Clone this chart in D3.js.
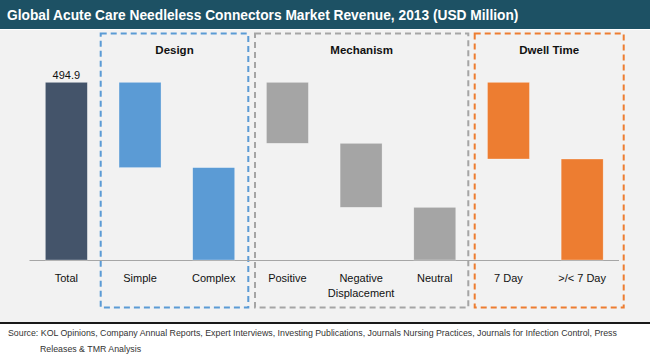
<!DOCTYPE html>
<html><head><meta charset="utf-8">
<script src="https://cdn.jsdelivr.net/npm/d3@7"></script>
<style>
html,body{margin:0;padding:0;background:#fff;}
svg{display:block;font-family:Arial,"Liberation Sans",sans-serif;}
</style></head>
<body>
<svg id="chart" width="650" height="356"></svg>
<script>
const title = "Global Acute Care Needleless Connectors Market Revenue, 2013 (USD Million)";
const categories = ["Total","Simple","Complex","Positive","Negative Displacement","Neutral","7 Day",">/< 7 Day"];
const values = [494.9, 237.6, 257.3, 169.9, 178.3, 146.7, 213.6, 281.3];
const groupOf = ["Total","Design","Design","Mechanism","Mechanism","Mechanism","Dwell Time","Dwell Time"];
const groups = ["Design","Mechanism","Dwell Time"];
const totalLabel = "494.9";
const sourceLines = ["Source: KOL Opinions, Company Annual Reports, Expert Interviews, Investing Publications, Journals Nursing Practices, Journals for Infection Control, Press",
                     "Releases & TMR Analysis"];

const colors = {"Total":"#44546A","Design":"#5B9BD5","Mechanism":"#A5A5A5","Dwell Time":"#ED7D31"};

const svg = d3.select("#chart");
// background
svg.append("rect").attr("x",0).attr("y",0).attr("width",650).attr("height",356).attr("fill","#fff");
svg.append("rect").attr("x",0).attr("y",0).attr("width",650).attr("height",29).attr("fill","#1D5164");
svg.append("text").attr("x",7).attr("y",20).attr("fill","#fff").attr("font-weight","bold")
  .attr("font-size",13.75).text(title);
svg.append("rect").attr("x",0).attr("y",30).attr("width",650).attr("height",292).attr("fill","#F2F2F2");
svg.append("rect").attr("x",0).attr("y",322).attr("width",650).attr("height",2).attr("fill","#1a1a1a");

// waterfall layout
const starts = [];
let groupRun = {};
values.forEach((v,i)=>{
  const g = groupOf[i];
  if(g==="Total"){ starts.push(0); return; }
  if(groupRun[g]===undefined) groupRun[g]=values[0];
  const top = groupRun[g];
  starts.push(top - v);
  groupRun[g] = top - v;
});

const x = d3.scaleBand().domain(categories).range([29.5,619]).paddingInner(0.43).paddingOuter(0.215);
const y = d3.scaleLinear().domain([0,494.9]).range([260,82.3]);

// group boxes
const boxStyle = {
  "Design":{x0:100.7,x1:248.3},
  "Mechanism":{x0:255,x1:468.3},
  "Dwell Time":{x0:474.7,x1:623.7}
};
groups.forEach(g=>{
  const b = boxStyle[g];
  svg.append("rect").attr("x",b.x0).attr("y",33.5).attr("width",b.x1-b.x0).attr("height",274)
    .attr("fill","none").attr("stroke",colors[g]).attr("stroke-width",2).attr("stroke-dasharray","6,4");
  svg.append("text").attr("x",(b.x0+b.x1)/2).attr("y",54).attr("text-anchor","middle")
    .attr("font-weight","bold").attr("font-size",11.5).attr("fill","#111").text(g);
});

// axis baseline
svg.append("line").attr("x1",29.5).attr("x2",619).attr("y1",260.5).attr("y2",260.5)
  .attr("stroke","#A6A6A6").attr("stroke-width",1.2);

// bars
svg.selectAll("rect.bar").data(values).enter().append("rect").attr("class","bar")
  .attr("x",(d,i)=>x(categories[i]))
  .attr("width",x.bandwidth())
  .attr("y",(d,i)=>y(starts[i]+d))
  .attr("height",(d,i)=>y(starts[i])-y(starts[i]+d))
  .attr("fill",(d,i)=>colors[groupOf[i]])
  .attr("stroke","#fff").attr("stroke-opacity",0.5).attr("stroke-width",0.6);

// total label
svg.append("text").attr("x",x("Total")+x.bandwidth()/2).attr("y",y(values[0])-3.5)
  .attr("text-anchor","middle").attr("font-size",11).attr("fill","#111").text(totalLabel);

// category labels
const xAxis = svg.append("g");
categories.forEach(c=>{
  const words = c==="Negative Displacement" ? ["Negative","Displacement"] : [c];
  const t = xAxis.append("text").attr("x",x(c)+x.bandwidth()/2).attr("y",282)
    .attr("text-anchor","middle").attr("font-size",11).attr("fill","#111");
  words.forEach((w,k)=>t.append("tspan").attr("x",x(c)+x.bandwidth()/2).attr("dy",k===0?0:15).text(w));
});

// source
svg.append("text").attr("x",8).attr("y",336).attr("font-size",8.8).attr("fill","#333").text(sourceLines[0]);
svg.append("text").attr("x",40).attr("y",352).attr("font-size",8.8).attr("fill","#333").text(sourceLines[1]);
</script>
</body></html>
